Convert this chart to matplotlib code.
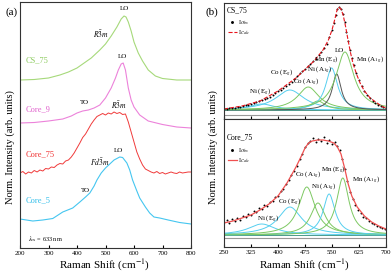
import numpy as np
import matplotlib
matplotlib.use('Agg')
import matplotlib.pyplot as plt

plt.rcParams['font.family'] = ['Liberation Serif', 'DejaVu Serif']
plt.rcParams['mathtext.fontset'] = 'stix'

# ---- panel (a): stacked Raman spectra (offset, arb. units) ----
cs75_x = [200, 250, 300, 340, 370, 400, 430, 450, 480, 500, 520, 540, 555, 565, 572,
          580, 590, 600, 615, 630, 650, 675, 700, 750, 800]
cs75_y = [168, 168.5, 170, 173, 176, 180, 186, 190, 198, 204, 212, 221, 229, 232, 231,
          226, 217, 206, 195, 187, 178, 172, 169.5, 168, 168]

core9_x = [200, 250, 300, 350, 380, 400, 420, 440, 460, 480, 500, 520, 535, 545, 555,
           562, 570, 580, 590, 600, 620, 650, 700, 750, 800]
core9_y = [125, 125.5, 127, 129, 132, 135, 137, 138, 140, 143, 150, 160, 170, 178, 184,
           185, 178, 160, 148, 141, 133, 127, 123.5, 121, 120]

core75_x = [200, 210, 220, 230, 240, 250, 260, 270, 280, 290, 300, 310, 320, 330, 340,
            350, 360, 370, 380, 390, 400, 410, 420, 430, 440, 450, 460, 470, 480, 490,
            500, 510, 520, 530, 540, 550, 560, 570, 580, 590, 600, 610, 620, 630, 640,
            650, 660, 670, 680, 690, 700, 710, 720, 730, 740, 750, 760, 770, 780, 790, 800]
core75_y = [75, 76.5, 74, 76, 75, 77.5, 76, 78, 77, 79.5, 79, 81, 80.5, 83, 84.5,
            84, 87, 88, 91, 95, 100, 105, 110.5, 114, 119, 124, 128, 131.5, 133, 134.5,
            133, 135, 134, 136, 134.5, 135.5, 133.5, 134, 126, 116, 106, 96, 89, 83, 79,
            77.5, 76, 75, 76.5, 74.5, 75.5, 74, 75, 76, 75, 74.5, 76, 75, 75.5, 76, 76]

core5_x = [200, 245, 280, 315, 350, 385, 410, 430, 445, 460, 470, 485, 500, 515, 530,
           550, 560, 575, 585, 595, 610, 620, 640, 655, 670, 690, 720, 760, 800]
core5_y = [29, 27, 28, 29.5, 36, 40, 46, 51, 55, 62, 68, 75, 80, 84, 88,
           91, 90.5, 85, 78, 68, 57, 50, 41, 35, 31, 30, 28, 25.5, 24]

# ---- panel (b): peak fits ----
labels_b = ['Ni (E$_g$)', 'Co (E$_g$)', 'Co (A$_{1g}$)', 'Ni (A$_{1g}$)', 'Mn (E$_g$)', 'LO', 'Mn (A$_{1g}$)']
comp_colors = ['#55CFEF', '#55CFEF', '#7DC862', '#7DC862', '#55CFEF', '#555555', '#7DC862']

cs_centers = [355, 433, 484, 511, 549, 563, 586]
cs_heights = [6, 20, 23, 9, 42, 36, 58]
cs_widths = [42, 48, 36, 25, 20, 15, 30]

core_names = ['Ni (E$_g$)', 'Co (E$_g$)', 'Co (A$_{1g}$)', 'Ni (A$_{1g}$)', 'Mn (E$_g$)', 'Mn (A$_{1g}$)']
core_colors = ['#55CFEF', '#55CFEF', '#7DC862', '#7DC862', '#55CFEF', '#7DC862']
core_centers = [355, 433, 480, 511, 542, 580]
core_heights = [11, 28, 48, 32, 41, 57]
core_widths = [46, 40, 28, 25, 20, 21]

cs_obs_x = [250, 258, 265, 272, 280, 288, 295, 303, 310, 318, 325, 333, 340, 348, 355,
            363, 370, 378, 385, 393, 400, 408, 415, 423, 430, 438, 445, 453, 460, 468,
            475, 483, 490, 498, 505, 513, 520, 528, 535, 543, 550, 555, 560, 565, 570,
            575, 580, 585, 590, 595, 600, 605, 610, 618, 625, 633, 640, 648, 655, 663,
            670, 678, 685, 692, 700]
cs_obs_y = [10, 10.5, 11, 11.5, 11, 12, 12.5, 13, 14, 14.5, 15.5, 16, 17, 18, 19,
            20, 21, 22.5, 24, 26, 28, 29.5, 31, 33, 35, 37.5, 40, 43, 46, 48,
            50, 53, 55, 58, 60, 64, 67, 71, 75, 82, 89, 96, 104, 110, 112,
            110, 105, 97, 87, 78, 69, 61, 54, 46, 39, 33, 28, 24, 21, 18,
            16, 14, 13, 12, 11]
cs_calc_x = [250, 300, 350, 400, 450, 500, 525, 540, 550, 558, 564, 569, 575, 581, 588,
             594, 601, 608, 618, 628, 640, 656, 675, 692, 700]
cs_calc_y = [10, 13, 18, 28, 41, 58, 69, 79, 89, 100, 109, 112, 110, 104, 92,
             80, 67, 56, 45, 36, 28, 21, 16, 12, 11]

core_obs_x = [250, 258, 265, 272, 280, 287, 295, 302, 310, 318, 325, 333, 340, 348, 355,
              362, 370, 378, 385, 392, 400, 408, 415, 422, 430, 437, 445, 452, 460, 467,
              475, 482, 490, 497, 505, 512, 520, 528, 535, 542, 550, 557, 565, 572, 578,
              585, 592, 600, 607, 615, 622, 630, 637, 645, 652, 660, 667, 675, 682, 690, 697]
core_obs_y = [25, 27, 24, 28, 26, 29, 27, 31, 30, 33, 32, 36, 35, 39, 38,
              42, 41, 45, 46, 50, 51, 56, 58, 63, 67, 72, 76, 81, 88, 93,
              100, 104, 106, 109, 105, 108, 106, 110, 104, 107, 103, 105, 101, 97, 88,
              78, 66, 55, 48, 42, 37, 34, 30, 29, 26, 24, 23, 21, 20, 19, 18]
core_calc_x = [250, 275, 300, 325, 350, 375, 400, 425, 450, 465, 475, 485, 495, 510, 525,
               540, 555, 565, 575, 585, 595, 605, 620, 640, 660, 680, 700]
core_calc_y = [24, 26, 29, 32, 37, 43, 51, 64, 80, 91, 99, 104, 106, 107, 107,
               106, 104, 100, 93, 79, 63, 51, 40, 31, 25, 21, 18]


def lorentz(x, c, h, w):
    return h / (1 + ((x - c) / w) ** 2)


fig = plt.figure(figsize=(3.92, 2.72), dpi=100)

# panel (a)
ax = fig.add_axes([20/392, 24/272, 171/392, 246/272])
ax.plot(cs75_x, cs75_y, color='#A6D97A', lw=0.8)
ax.plot(core9_x, core9_y, color='#EC82DA', lw=0.8)
ax.plot(core75_x, core75_y, color='#F03A3A', lw=0.7)
ax.plot(core5_x, core5_y, color='#45C6F0', lw=0.8)
ax.set_xlim(200, 800)
ax.set_ylim(0, 246)
ax.set_yticks([])
ax.set_xticks([200, 300, 400, 500, 600, 700, 800])
ax.tick_params(axis='x', direction='in', labelsize=5, length=2, pad=2)

ax.text(221, 188, 'CS_75', color='#8CCB5E', fontsize=6, va='center')
ax.text(221, 139, 'Core_9', color='#E060CC', fontsize=6, va='center')
ax.text(221, 94, 'Core_75', color='#F03030', fontsize=6, va='center')
ax.text(221, 48, 'Core_5', color='#30BEEA', fontsize=6, va='center')
for x, y in [(565, 240), (558, 191), (544, 97)]:
    ax.text(x, y, 'LO', fontsize=5, ha='center', va='center')
ax.text(425, 145, 'TO', fontsize=5, ha='center', va='center')
ax.text(428, 57, 'TO', fontsize=5, ha='center', va='center')
ax.text(484, 214, r'$R\bar{3}m$', fontsize=5.5, ha='center', va='center')
ax.text(547, 143, r'$R\bar{3}m$', fontsize=5.5, ha='center', va='center')
ax.text(481, 86, r'$Fd\bar{3}m$', fontsize=5.5, ha='center', va='center')
ax.text(228, 9, r'$\lambda_{\rm ex}$ = 633 nm', fontsize=4.5, va='center')

fig.text(6/392, 1 - 12/272, '(a)', fontsize=8, va='center')
fig.text(206/392, 1 - 12/272, '(b)', fontsize=8, va='center')
fig.text(105/392, 7/272, 'Raman Shift (cm$^{-1}$)', fontsize=8, ha='center', va='center')
fig.text(10/392, 125/272, 'Norm. Intensity (arb. units)', fontsize=7.5, ha='center', va='center', rotation=90)
fig.text(305/392, 7/272, 'Raman Shift (cm$^{-1}$)', fontsize=8, ha='center', va='center')
fig.text(213/392, 125/272, 'Norm. Intensity (arb. units)', fontsize=7.5, ha='center', va='center', rotation=90)

# panel (b) upper
xs = np.linspace(250, 700, 451)
ax1 = fig.add_axes([224/392, 153/272, 162/392, 116/272])
base1 = 9
ax1.axhline(4, color='#999999', lw=0.8)
ax1.axhline(base1, color='#2E8B7A', lw=0.6)
for c, h, w, col in zip(cs_centers, cs_heights, cs_widths, comp_colors):
    ax1.plot(xs, base1 + lorentz(xs, c, h, w), color=col, lw=0.7)
obs1, = ax1.plot(cs_obs_x, cs_obs_y, 'o', color='black', ms=1.4, mew=0, label=r'I$_{Obs}$')
calc1, = ax1.plot(cs_calc_x, cs_calc_y, '--', color='#E8141C', lw=0.8, label=r'I$_{Calc}$')
ax1.set_xlim(250, 700)
ax1.set_ylim(0, 116)
ax1.set_yticks([])
ax1.set_xticks([250, 325, 400, 475, 550, 625, 700])
ax1.tick_params(axis='x', direction='in', labelbottom=False, length=2)
ax1.text(0.015, 0.94, 'CS_75', transform=ax1.transAxes, fontsize=5.5, va='center')
ax1.legend(handles=[obs1, calc1], loc='upper left', bbox_to_anchor=(0.0, 0.91), frameon=False,
           fontsize=4.5, handlelength=1.3, handletextpad=0.3, labelspacing=0.2, borderpad=0.2,
           markerscale=1.5)
cs_lab_x = [350, 411, 478, 517, 536, 572, 656]
cs_lab_y = [27, 46, 37, 49, 59, 68, 59]
for lab, x, y in zip(labels_b, cs_lab_x, cs_lab_y):
    ax1.text(x, y, lab, fontsize=5, ha='center', va='center')

# panel (b) lower
ax2 = fig.add_axes([224/392, 25/272, 162/392, 128/272])
base2 = 12
ax2.axhline(9, color='#999999', lw=0.8)
ax2.axhline(base2, color='#2E8B7A', lw=0.6)
for c, h, w, col in zip(core_centers, core_heights, core_widths, core_colors):
    ax2.plot(xs, base2 + lorentz(xs, c, h, w), color=col, lw=0.7)
obs2, = ax2.plot(core_obs_x, core_obs_y, 'o', color='black', ms=1.4, mew=0, label=r'I$_{Obs}$')
calc2, = ax2.plot(core_calc_x, core_calc_y, '-', color='#F05050', lw=0.9, label=r'I$_{Calc}$')
ax2.set_xlim(250, 700)
ax2.set_ylim(0, 128)
ax2.set_yticks([])
ax2.set_xticks([250, 325, 400, 475, 550, 625, 700])
ax2.tick_params(axis='x', direction='in', labelsize=5, length=2, pad=2)
ax2.text(0.015, 0.86, 'Core_75', transform=ax2.transAxes, fontsize=5.5, va='center')
ax2.legend(handles=[obs2, calc2], loc='upper left', bbox_to_anchor=(0.0, 0.82), frameon=False,
           fontsize=4.5, handlelength=1.3, handletextpad=0.3, labelspacing=0.2, borderpad=0.2,
           markerscale=1.5)
core_lab_x = [372, 433, 483, 528, 553, 644]
core_lab_y = [28, 45, 72, 60, 77, 67]
for lab, x, y in zip(core_names, core_lab_x, core_lab_y):
    ax2.text(x, y, lab, fontsize=5, ha='center', va='center')

for a in (ax, ax1, ax2):
    for s in a.spines.values():
        s.set_linewidth(0.8)
        s.set_color('#333333')

fig.savefig('out.png', dpi=100)
